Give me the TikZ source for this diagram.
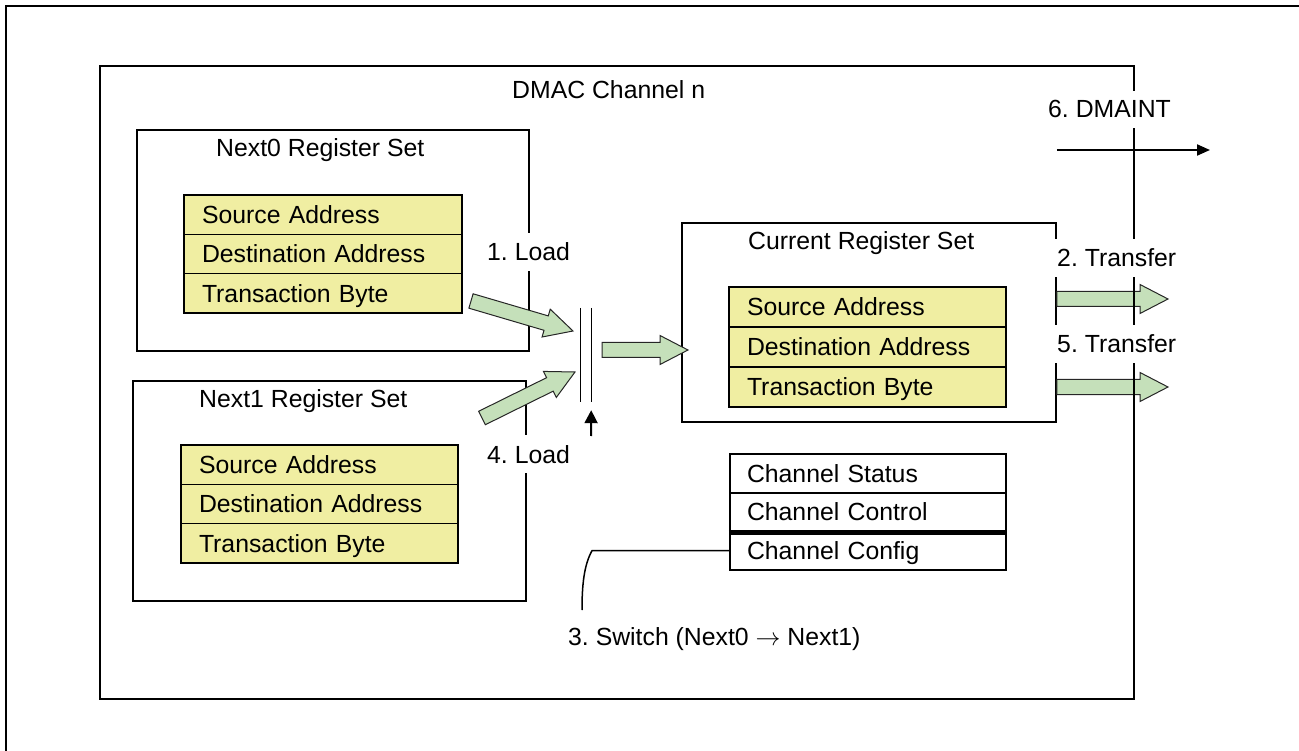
\documentclass[tikz,border=0pt]{standalone}
\usepackage{fontspec}
\setmainfont{Liberation Sans}
\usetikzlibrary{calc,arrows.meta}
\definecolor{regyellow}{RGB}{240,238,162}
\definecolor{arrowgreen}{RGB}{197,224,186}
\newcommand\lbf{\fontsize{24.8}{30}\selectfont}
\newcommand\fatarrow[2]{%
  \coordinate (fa-h) at ($(#2)!28pt!(#1)$);
  \filldraw[fatarrowstyle] ($(#1)!7.5pt!90:(#2)$) -- ($(fa-h)!7.5pt!-90:(#1)$) -- ($(fa-h)!14.5pt!-90:(#1)$) -- (#2) -- ($(fa-h)!14.5pt!90:(#1)$) -- ($(fa-h)!7.5pt!90:(#1)$) -- ($(#1)!7.5pt!-90:(#2)$) -- cycle;}
\tikzset{
  regbox/.style={draw, line width=1.5pt, inner sep=0pt},
  regrow/.style={draw, line width=1.5pt, fill=regyellow, inner xsep=18pt, inner ysep=0pt, align=left, text height=17.8pt, text depth=0pt, font=\lbf},
  chrow/.style={draw, line width=2.2pt, fill=white, inner xsep=17pt, inner ysep=0pt, align=left, text height=17.8pt, text depth=0pt, font=\lbf},
  lbl/.style={font=\lbf, inner sep=0pt, anchor=base west},
  wlbl/.style={font=\lbf, fill=white, inner xsep=3pt, inner ysep=10pt, anchor=base west},
  fatarrowstyle/.style={fill=arrowgreen, draw=black!85, line width=1pt, line join=miter},
}
\begin{document}
\frenchspacing
\begin{tikzpicture}[x=1pt,y=-1pt]
\useasboundingbox (0,0) rectangle (1299,751);
% outer frame
\draw[line width=2.5pt] (6,751) -- (6,6) -- (1299,6);

% register set boxes
\node[regbox, minimum width=392pt, minimum height=221pt] (next0) at (333,240.5) {};
\node[regbox, minimum width=393pt, minimum height=220pt] (next1) at (329.5,491) {};
\node[regbox, minimum width=374pt, minimum height=199pt] (cur) at (869,322.5) {};

% Next0 rows
\node[regrow, text width=242pt, minimum height=39.3pt] (n0a) at (323,214.7) {Source Address};
\node[regrow, text width=242pt, minimum height=39.3pt] (n0b) at (323,254) {Destination Address};
\node[regrow, text width=242pt, minimum height=39.3pt] (n0c) at (323,293.3) {Transaction Byte};
% Next1 rows
\node[regrow, text width=241pt, minimum height=39.3pt] (n1a) at (319.5,464.7) {Source Address};
\node[regrow, text width=241pt, minimum height=39.3pt] (n1b) at (319.5,504) {Destination Address};
\node[regrow, text width=241pt, minimum height=39.3pt] (n1c) at (319.5,543.3) {Transaction Byte};
% Current rows
\node[regrow, text width=241pt, minimum height=40pt] (cra) at (867.5,307) {Source Address};
\node[regrow, text width=241pt, minimum height=40pt] (crb) at (867.5,347) {Destination Address};
\node[regrow, text width=241pt, minimum height=40pt] (crc) at (867.5,387) {Transaction Byte};

% Channel registers
\node[chrow, text width=242pt, minimum height=38.7pt] (ch1) at (868,473.3) {Channel Status};
\node[chrow, text width=242pt, minimum height=38.7pt] (ch2) at (868,512) {Channel Control};
\node[chrow, text width=242pt, minimum height=38.7pt] (ch3) at (868,550.7) {Channel Config};
\draw[line width=5pt] (ch2.south west) -- (ch2.south east);

% switch (double bar)
\node[minimum width=10pt, minimum height=94pt, inner sep=0pt] (sw) at (586,355) {};
\draw[line width=1.3pt] (sw.north west) -- (sw.south west);
\draw[line width=1.3pt] (sw.north east) -- (sw.south east);
\coordinate (swtail) at (591,436);
\draw[line width=2pt, -{Triangle[length=13pt,width=13pt]}] (swtail) -- ($(sw.south east)+(0,8)$);

% load arrows
\coordinate (l1s) at (471,301);
\coordinate (l1e) at (573,331);
\coordinate (l4s) at (482,418);
\coordinate (l4e) at (575,372);
\coordinate (lcs) at (602,350);
\coordinate (lce) at (688,350);
\fatarrow{l1s}{l1e}
\fatarrow{l4s}{l4e}
\fatarrow{lcs}{lce}

% transfer arrows
\coordinate (t2s) at (cur.east |- 0,299);
\coordinate (t2e) at (1168,299);
\coordinate (t5s) at (cur.east |- 0,387);
\coordinate (t5e) at (1168,387);
\fatarrow{t2s}{t2e}
\fatarrow{t5s}{t5e}

% DMAC channel box
\node[regbox, minimum width=1034pt, minimum height=633pt] (dmac) at (617,382.5) {};

% DMAINT arrow
\coordinate (ints) at (cur.east |- 0,150);
\coordinate (inte) at (1210,150);
\draw[line width=2pt, -{Triangle[length=13pt,width=11pt]}] (ints) -- (inte);

% switch connector
\coordinate (swc) at (582,610);
\draw[line width=1.5pt] (ch3.west) -- (592,550.7) .. controls (584,565) and (582,585) .. (swc);

% labels
\node[lbl] (tdmac) at (512,99) {DMAC Channel n};
\node[lbl] (tn0) at (216,157) {Next0 Register Set};
\node[lbl] (tn1) at (199,407) {Next1 Register Set};
\node[lbl] (tcur) at (748,250) {Current Register Set};
\node[wlbl] (load1) at (484,261) {1. Load};
\node[wlbl] (load4) at (484,463) {4. Load};
\node[wlbl] (dmaint) at (1045,118) {6. DMAINT};
\node[wlbl] (tr2) at (1054,267) {2. Transfer};
\node[wlbl] (tr5) at (1054,353) {5. Transfer};
\node[lbl] (swl) at (568,645) {3. Switch (Next0 \ensuremath{\rightarrow} Next1)};
\end{tikzpicture}
\end{document}
